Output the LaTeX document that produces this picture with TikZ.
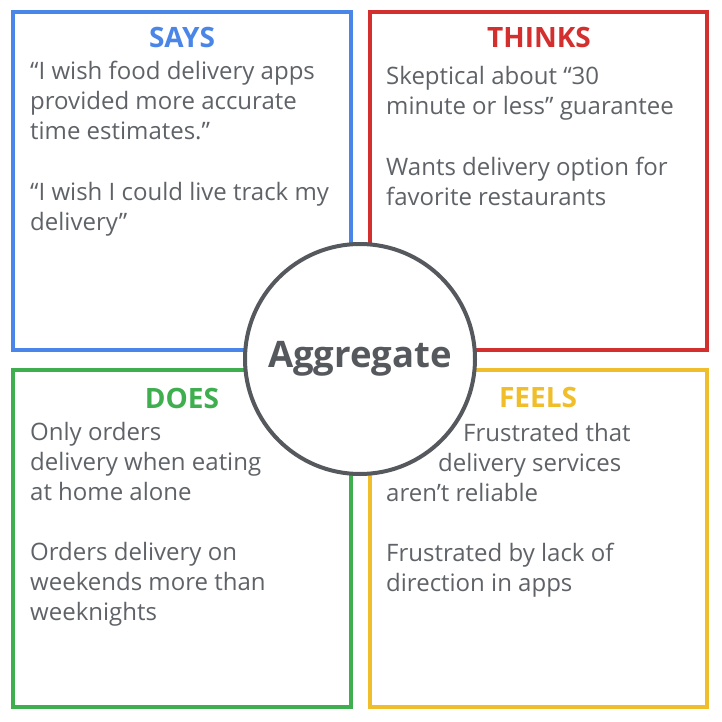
\documentclass[tikz,border=0pt]{standalone}
\usepackage{fontspec}
\setmainfont{Open Sans}
\begin{document}
\begin{tikzpicture}[x=1pt,y=-1pt,
  quad/.style={line width=3.5pt, line join=miter},
  head/.style={font=\fontsize{28}{30}\selectfont\bfseries, inner sep=0pt, anchor=base},
  body/.style={font=\fontsize{24}{30}\selectfont, text=txtgray, align=left, inner sep=0pt, anchor=base west},
  hub/.style={circle, draw=hubgray, line width=4pt, fill=white, minimum size=230pt, inner sep=0pt,
    font=\fontsize{36.5}{40}\selectfont\bfseries, text=hubgray}
]
\definecolor{gblue}{HTML}{4A86E8}
\definecolor{gred}{HTML}{D32F2F}
\definecolor{ggreen}{HTML}{3EAE4F}
\definecolor{gyellow}{HTML}{F1BE2B}
\definecolor{txtgray}{HTML}{5F6368}
\definecolor{hubgray}{HTML}{55585C}
\useasboundingbox[fill=white] (0,0) rectangle (721,722);

% four quadrants
\draw[quad, gblue]   (13,12)  rectangle (351,350);
\draw[quad, gred]    (370,12) rectangle (707,350);
\draw[quad, ggreen]  (13,370) rectangle (351,707);
\draw[quad, gyellow] (370,370) rectangle (707,707);

% headings
\node[head, text=gblue]   (says)   at (182,48)  {SAYS};
\node[head, text=gred]    (thinks) at (539,48)  {THINKS};
\node[head, text=ggreen]  (does)   at (182,408) {DOES};
\node[head, text=gyellow] (feels)  at (538,407) {FEELS};

% paragraphs: each node sits on the baseline of its last line
% SAYS
\node[body] (s1) at (30,140) {“I wish food delivery apps\\provided more accurate\\time estimates.”};
\node[body] (s2) at (30,230) {“I wish I could live track my\\delivery”};

% THINKS
\node[body] (t1) at (386,115) {Skeptical about “30\\minute or less” guarantee};
\node[body] (t2) at (386,205) {Wants delivery option for\\favorite restaurants};

% DOES
\node[body] (d1) at (30,500) {Only orders\\delivery when eating\\at home alone};
\node[body] (d2) at (30,620) {Orders delivery on\\weekends more than\\weeknights};

% FEELS
\node[body] (f1) at (463,441) {Frustrated that};
\node[body] (f2) at (438,471) {delivery services};
\node[body] (f3) at (386,501) {aren’t reliable};
\node[body] (f4) at (386,591) {Frustrated by lack of\\direction in apps};

% centre hub
\node[hub] (agg) at (360,359) {Aggregate};
\end{tikzpicture}
\end{document}
